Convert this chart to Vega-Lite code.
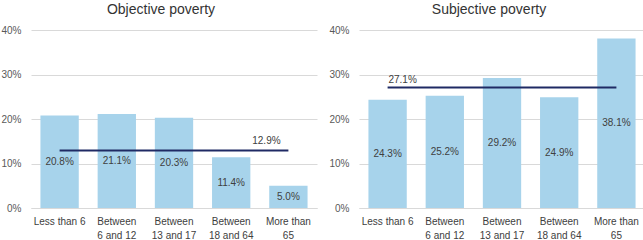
{
  "$schema": "https://vega.github.io/schema/vega-lite/v6.json",
  "padding": {"top": 3, "left": 0, "right": 0, "bottom": 0},
  "background": "white",
  "config": {
    "view": {"stroke": null},
    "font": "Liberation Sans",
    "concat": {"spacing": 11},
    "title": {"fontSize": 14, "fontWeight": "normal", "color": "#333333", "offset": 8, "font": "Liberation Sans"},
    "axisY": {
      "grid": true, "gridColor": "#d9d9d9", "gridWidth": 1, "domain": false, "ticks": false,
      "labelPadding": 10, "minExtent": 30, "maxExtent": 30, "labelFontSize": 10, "labelColor": "#595959",
      "values": [0, 0.1, 0.2, 0.3, 0.4], "format": ".0%", "title": null
    },
    "axisX": {
      "domain": true, "domainColor": "#d9d9d9", "ticks": false, "labelAngle": 0, "labelPadding": 8,
      "labelFontSize": 10, "labelColor": "#404040", "labelLineHeight": 14, "title": null
    }
  },
  "datasets": {
    "obj": [
      {"group": "Less than 6", "v": 0.208},
      {"group": "Between 6 and 12", "v": 0.211},
      {"group": "Between 13 and 17", "v": 0.203},
      {"group": "Between 18 and 64", "v": 0.114},
      {"group": "More than 65", "v": 0.050}
    ],
    "subj": [
      {"group": "Less than 6", "v": 0.243},
      {"group": "Between 6 and 12", "v": 0.252},
      {"group": "Between 13 and 17", "v": 0.292},
      {"group": "Between 18 and 64", "v": 0.249},
      {"group": "More than 65", "v": 0.381}
    ],
    "objMean": [
      {"group": "Less than 6", "m": 0.129},
      {"group": "Between 6 and 12", "m": 0.129},
      {"group": "Between 13 and 17", "m": 0.129},
      {"group": "Between 18 and 64", "m": 0.129},
      {"group": "More than 65", "m": 0.129}
    ],
    "subjMean": [
      {"group": "Less than 6", "m": 0.271},
      {"group": "Between 6 and 12", "m": 0.271},
      {"group": "Between 13 and 17", "m": 0.271},
      {"group": "Between 18 and 64", "m": 0.271},
      {"group": "More than 65", "m": 0.271}
    ],
    "objMeanLbl": [{"group": "More than 65", "m": 0.129}],
    "subjMeanLbl": [{"group": "Less than 6", "m": 0.271}]
  },
  "hconcat": [
    {
      "width": 286, "height": 178,
      "title": {"text": "Objective poverty", "dx": -13},
      "resolve": {"scale": {"y": "independent"}},
      "layer": [
        {
          "data": {"name": "obj"},
          "mark": {"type": "bar", "color": "#a7d3eb"},
          "encoding": {
            "x": {"field": "group", "type": "nominal", "sort": null,
              "scale": {"domain": ["Less than 6", "Between 6 and 12", "Between 13 and 17", "Between 18 and 64", "More than 65"], "paddingInner": 0.33, "paddingOuter": 0.165},
              "axis": {"labelExpr": "indexof(datum.label, 'Between') == 0 ? ['Between', substring(datum.label, 8)] : (datum.label == 'More than 65' ? ['More than', '65'] : datum.label)"}},
            "y": {"field": "v", "type": "quantitative", "scale": {"domain": [0, 0.4]}}
          }
        },
        {
          "data": {"name": "obj"},
          "mark": {"type": "text", "baseline": "middle", "fontSize": 10, "color": "#404040"},
          "encoding": {
            "x": {"field": "group", "type": "nominal", "sort": null},
            "y": {"field": "v", "type": "quantitative", "scale": {"domain": [0, 0.8]}, "axis": null},
            "text": {"field": "v", "type": "quantitative", "format": ".1%"}
          }
        },
        {
          "data": {"name": "objMean"},
          "mark": {"type": "line", "color": "#1f2a64", "strokeWidth": 2},
          "encoding": {
            "x": {"field": "group", "type": "nominal", "sort": null},
            "y": {"field": "m", "type": "quantitative", "scale": {"domain": [0, 0.4]}, "axis": null}
          }
        },
        {
          "data": {"name": "objMeanLbl"},
          "mark": {"type": "text", "baseline": "middle", "fontSize": 10, "color": "#404040", "dx": -22, "dy": -10},
          "encoding": {
            "x": {"field": "group", "type": "nominal", "sort": null},
            "y": {"field": "m", "type": "quantitative", "scale": {"domain": [0, 0.4]}, "axis": null},
            "text": {"field": "m", "type": "quantitative", "format": ".1%"}
          }
        }
      ]
    },
    {
      "width": 286, "height": 178,
      "title": {"text": "Subjective poverty", "dx": -13},
      "resolve": {"scale": {"y": "independent"}},
      "layer": [
        {
          "data": {"name": "subj"},
          "mark": {"type": "bar", "color": "#a7d3eb"},
          "encoding": {
            "x": {"field": "group", "type": "nominal", "sort": null,
              "scale": {"domain": ["Less than 6", "Between 6 and 12", "Between 13 and 17", "Between 18 and 64", "More than 65"], "paddingInner": 0.33, "paddingOuter": 0.165},
              "axis": {"labelExpr": "indexof(datum.label, 'Between') == 0 ? ['Between', substring(datum.label, 8)] : (datum.label == 'More than 65' ? ['More than', '65'] : datum.label)"}},
            "y": {"field": "v", "type": "quantitative", "scale": {"domain": [0, 0.4]}}
          }
        },
        {
          "data": {"name": "subj"},
          "mark": {"type": "text", "baseline": "middle", "fontSize": 10, "color": "#404040"},
          "encoding": {
            "x": {"field": "group", "type": "nominal", "sort": null},
            "y": {"field": "v", "type": "quantitative", "scale": {"domain": [0, 0.8]}, "axis": null},
            "text": {"field": "v", "type": "quantitative", "format": ".1%"}
          }
        },
        {
          "data": {"name": "subjMean"},
          "mark": {"type": "line", "color": "#1f2a64", "strokeWidth": 2},
          "encoding": {
            "x": {"field": "group", "type": "nominal", "sort": null},
            "y": {"field": "m", "type": "quantitative", "scale": {"domain": [0, 0.4]}, "axis": null}
          }
        },
        {
          "data": {"name": "subjMeanLbl"},
          "mark": {"type": "text", "baseline": "middle", "fontSize": 10, "color": "#404040", "dx": 15, "dy": -7},
          "encoding": {
            "x": {"field": "group", "type": "nominal", "sort": null},
            "y": {"field": "m", "type": "quantitative", "scale": {"domain": [0, 0.4]}, "axis": null},
            "text": {"field": "m", "type": "quantitative", "format": ".1%"}
          }
        }
      ]
    }
  ]
}
